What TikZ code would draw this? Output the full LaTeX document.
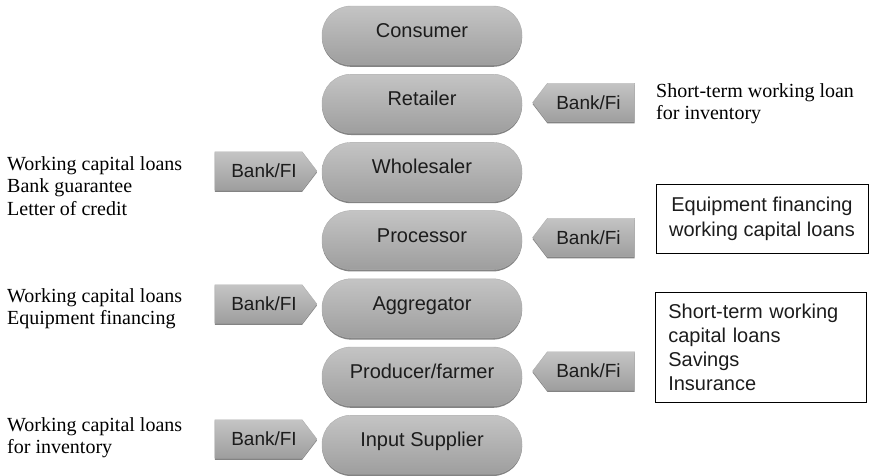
\documentclass[tikz,border=0pt]{standalone}
\usepackage{fontspec}
\setmainfont{Liberation Serif}
\setsansfont{Liberation Sans}
\usetikzlibrary{shapes.symbols,shadows}

\definecolor{pilltop}{HTML}{C4C4C4}
\definecolor{pillbot}{HTML}{9E9E9E}
\definecolor{rim}{HTML}{767676}
\definecolor{ink}{HTML}{1C1C1C}

\begin{document}
\begin{tikzpicture}[x=1pt,y=-1pt,
  stage/.style={rectangle, rounded corners=29pt, minimum width=200pt,
    minimum height=59pt, top color=pilltop, bottom color=pillbot,
    draw=rim!60, line width=0.4pt, text=ink,
    font=\sffamily\fontsize{20}{24}\selectfont,
    text height=14pt, text depth=10pt,
    drop shadow={shadow xshift=0pt, shadow yshift=-1.8pt, fill=rim, opacity=0.9}},
  bank/.style={signal, signal from=nowhere, signal pointer angle=105,
    minimum width=102pt, minimum height=38.5pt, inner sep=0pt,
    top color=pilltop, bottom color=pillbot, draw=rim!60, line width=0.4pt,
    text=ink, font=\sffamily\fontsize{19}{23}\selectfont,
    drop shadow={shadow xshift=0pt, shadow yshift=-1.6pt, fill=rim, opacity=0.9}},
  % label sits a little toward the pointer
  bankR/.style={bank, signal to=east, execute at begin node={\hspace*{11pt}}},
  bankL/.style={bank, signal to=west, execute at end node={\hspace*{5pt}}},
  note/.style={anchor=north west, inner sep=0pt, align=left,
    font=\fontsize{20}{22.5}\selectfont},
  frame/.style={draw=black, line width=0.6pt, text=ink,
    font=\sffamily\fontsize{20}{25}\selectfont}
]
\useasboundingbox (0,0) rectangle (871,475);

% value chain, top to bottom
\node[stage] (consumer)   at (422, 35.5)  {Consumer};
\node[stage] (retailer)   at (422, 103.7) {Retailer};
\node[stage] (wholesaler) at (422, 171.9) {Wholesaler};
\node[stage] (processor)  at (422, 240.1) {Processor};
\node[stage] (aggregator) at (422, 308.3) {Aggregator};
\node[stage] (producer)   at (422, 376.5) {Producer/farmer};
\node[stage] (supplier)   at (422, 444.7) {Input Supplier};

% lenders on the left
\node[bankR] (bankW) at (258.5, 171) {Bank/FI};
\node[bankR] (bankA) at (258.5, 304) {Bank/FI};
\node[bankR] (bankS) at (258.5, 439) {Bank/FI};

% lenders on the right
\node[bankL] (bankRt) at (591, 102.5) {Bank/Fi};
\node[bankL] (bankP)  at (591, 237.5) {Bank/Fi};
\node[bankL] (bankF)  at (591, 371)   {Bank/Fi};

% products offered on the left
\node[note] (prodW) at (7, 156.3)
  {Working capital loans\\Bank guarantee\\Letter of credit};
\node[note] (prodA) at (7, 288.3)
  {Working capital loans\\Equipment financing};
\node[note] (prodS) at (7, 417.3)
  {Working capital loans\\for inventory};

% products offered on the right
\node[note] (prodRt) at (656, 83.3)
  {Short-term working loan\\for inventory};
\node[frame, minimum width=212pt, minimum height=69pt, align=center]
  (prodP) at (762, 218.5)
  {Equipment financing\\working capital loans};
\node[frame, anchor=north west, text width=185pt, align=left,
  inner xsep=13pt, inner ysep=11.75pt,
  font=\sffamily\fontsize{20}{24}\selectfont] (prodF) at (655, 292)
  {Short-term working\\capital loans\\Savings\\Insurance};
\end{tikzpicture}
\end{document}
